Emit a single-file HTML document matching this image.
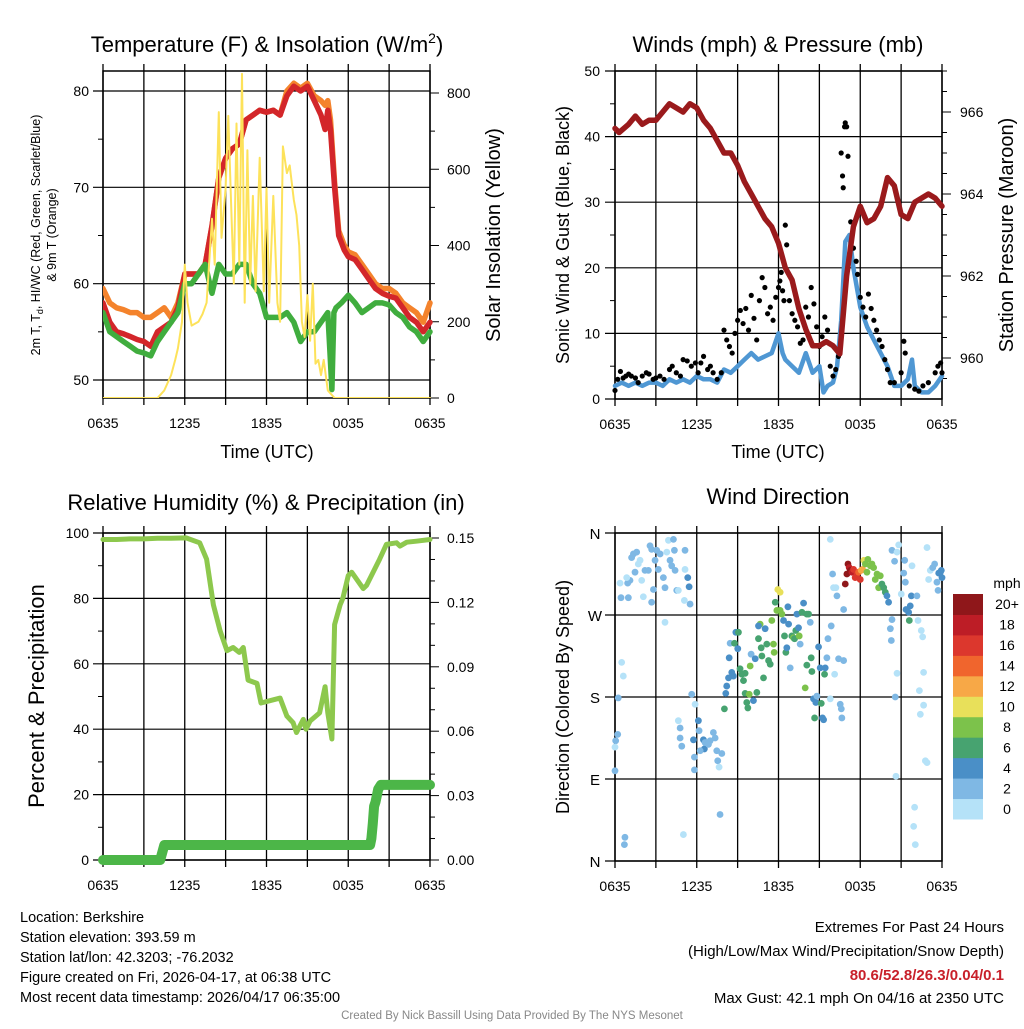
<!DOCTYPE html>
<html><head><meta charset="utf-8"><style>
body{margin:0;background:#fff;}
svg text{font-family:"Liberation Sans",sans-serif;}
</style></head><body>
<svg id="s" width="1024" height="1024" xmlns="http://www.w3.org/2000/svg"></svg>
<script>
// ---------- DATA ----------
const xTickLabels = ["0635","1235","1835","0035","0635"];
// Temperature panel (hours since 0635)
const tRedH  = [0,0.5,1,1.5,2,2.5,3,3.5,4,4.5,5,5.5,6,6.5,7,7.5,8,8.5,9,9.5,10,10.5,11,11.5,12,12.5,13,13.5,14,14.5,15,15.5,16,16.3,16.5,16.7,17,17.3,17.7,18,18.5,19,19.5,20,20.5,21,21.5,22,22.5,23,23.5,24];
const tRedV  = [58,56,55,54.8,54.5,54.2,54,53.5,55,55.5,56,57.5,61,61,61,62,66,71,73,74,74.5,77,77.5,78,77.8,78,77.5,79.5,80.5,80,80.5,79,77.5,76,78,76,70,65,63.5,62.8,62.5,61.5,60.5,59.5,59,58.7,58.5,57.5,56.5,56,55,56];
const tOrgV  = [59.5,58,57.5,57.3,57,57,56.5,56.5,57,57.5,56.5,58,61,61,61,62,66,71,73,74,74.5,77,77.5,78,77.8,78,77.5,80,80.8,80.3,80.8,79.5,79,78.5,79,77,70.5,65.5,64,63.3,63,62,61,60,59.5,59.5,59,58,57.5,57,56,58];
const tGrnH  = [0,0.5,1,1.5,2,2.5,3,3.5,4,4.5,5,5.5,6,6.5,7,7.5,8,8.5,9,9.5,10,10.5,11,11.5,12,12.5,13,13.5,14,14.5,15,15.5,16,16.5,16.65,16.8,16.95,17.1,17.5,18,18.5,19,19.5,20,20.5,21,21.5,22,22.5,23,23.5,24];
const tGrnV  = [57,55,54.5,54,53.5,53,52.8,52.5,54,55,56,57,60,60,61,62,59,62,61,61,62,62,60,59,56.5,56.5,56.5,57,56,54,55,55,56,57,53,49,57,57.5,58,58.8,58,57,57.5,58,58,57.8,57,56.5,55.5,55,54,55];
const solarH = [0,4,4.5,5,5.3,5.5,5.8,6,6.2,6.5,7,7.3,7.6,8,8.2,8.5,8.7,9,9.2,9.4,9.6,9.8,10,10.2,10.4,10.6,10.8,11,11.2,11.5,11.8,12,12.2,12.5,12.8,13,13.2,13.5,13.7,14,14.2,14.4,14.6,14.8,15,15.2,15.4,15.6,15.8,16,16.2,16.5,17,24];
const solarV = [0,0,20,60,100,130,200,350,250,190,200,220,250,470,350,750,420,550,740,510,300,720,350,850,250,650,300,530,280,630,280,550,250,530,250,200,660,590,610,520,480,400,200,160,270,150,300,90,100,60,100,20,0,0];
// Winds panel
const presH = [0,0.3,1,1.5,2,2.5,3,3.5,4,4.5,5,5.5,6,6.5,7,7.5,8,8.5,9,9.5,10,10.5,11,11.5,12,12.5,13,13.5,14,14.5,15,15.5,16,16.5,17,17.5,18,18.5,19,19.5,20,20.5,21,21.5,22,22.5,23,23.5,24];
const presV = [965.6,965.5,965.7,965.9,965.7,965.8,965.8,966.0,966.2,966.1,966.0,966.2,966.1,965.8,965.6,965.3,965.0,965.0,964.7,964.3,964.0,963.7,963.4,963.2,962.8,962.2,961.9,961.2,960.7,960.3,960.3,960.4,960.3,960.1,962.0,963.2,963.7,963.3,963.4,963.7,964.4,964.2,963.5,963.4,963.8,963.9,964.0,963.9,963.7];
const windH = [0,0.5,1,1.5,2,2.5,3,3.5,4,4.5,5,5.5,6,6.5,7,7.5,8,8.5,9,9.5,10,10.5,11,11.5,12,12.3,12.5,13,13.5,14,14.5,15,15.3,15.6,16,16.3,16.6,16.9,17.2,17.5,18,18.5,19,19.5,20,20.5,21,21.5,21.8,22,22.5,23,23.5,24];
const windV = [2,2.5,2,2.5,2,2.5,2.5,2,3,2.5,3,2.5,3.5,3,3,2.5,4.5,4,5,6,7,6,6.5,7,10,7,6,5,4,7,4,5,1,2,2.5,5,12,24,25,20,14,11,9,7,5,2,2,3,6,2,1,1,2,3.5];
const gustH = [0,0.2,0.4,0.6,0.8,1,1.2,1.5,1.7,2,2.3,2.5,2.8,3,3.3,3.6,4,4.2,4.5,4.8,5,5.3,5.6,5.9,6.1,6.3,6.5,6.8,7,7.2,7.5,7.8,8,8.2,8.4,8.6,8.8,9,9.2,9.4,9.6,9.8,10,10.2,10.4,10.6,10.8,11,11.2,11.4,11.6,11.8,12,12.1,12.2,12.3,12.4,12.5,12.6,12.8,13,13.2,13.4,13.6,13.8,14,14.2,14.4,14.6,14.8,15,15.2,15.4,15.6,15.8,16,16.2,16.4,16.6,16.7,16.75,16.85,16.9,17,17.1,17.3,17.5,17.7,17.8,18,18.2,18.4,18.6,18.8,19,19.2,19.4,19.6,19.8,20,20.2,20.5,21,21.2,21.3,21.6,22,22.3,22.6,23,23.5,23.7,23.9,24];
const gustV = [1.3,3,4.2,3.2,3.5,3.8,3.5,3.2,2.5,3.5,4,3.8,3,3.2,3.5,3,4.5,5,4,3.5,6,5.8,5,5.5,4,5.5,6.5,4.5,5,4,3,4,10.5,9,8,7,10,12,13.5,11.5,13.8,10.5,15.8,12.3,9,15,18.5,17,13,14,12,15.5,17,18,19.3,16.5,15,26.5,23.5,15,13,12,11,8.5,9,14,12.5,17,14.5,11,8,9.5,12.5,10.5,5,3.5,4.5,6.5,37.5,34,32.2,41.5,42.1,41.5,37,27,23,21,19,15.5,14,12.5,16,13.8,12,10.5,9,8,6,4.5,2.5,2.5,4,8.8,7,2,1.5,1.2,2,2.5,4,5,5.5,4];
// Humidity panel
const rhH = [0,1,2,3,4,5,6.1,7.1,7.6,8.1,8.6,9.1,9.55,10,10.3,10.65,11.3,11.6,12.5,13,13.5,13.95,14.2,14.7,14.9,15.2,15.9,16.3,16.5,16.8,17,17.4,17.6,18,18.25,19.1,19.35,20.3,20.8,21.55,21.8,22.3,23,24];
const rhV = [98,98,98.2,98.2,98.4,98.4,98.5,97,92,78,70,64,65,63.5,65,55,54,48,49,49.5,44,42,39,43,40,42.5,45,53,45,37,72,78,80,87,88,83,84,92,96.5,97,96,97.2,97.5,98];
const pcpH = [0,4.2,4.5,19.6,19.7,19.8,19.9,20.0,20.2,20.4,24];
const pcpV = [0,0,0.007,0.007,0.01,0.017,0.025,0.027,0.033,0.035,0.035];
// Wind direction panel
const dirH = [0.37,0.44,0.98,0.93,1.10,0.86,1.47,1.22,1.35,1.59,1.84,1.71,1.96,2.08,2.20,2.45,2.57,2.69,2.82,2.69,2.94,3.06,3.18,3.31,3.55,3.67,3.80,3.92,4.04,4.16,4.29,4.36,4.41,4.53,4.65,5.14,5.14,5.34,5.44,5.51,5.09,3.67,0.49,0.61,0.24,0.20,0.05,0,0,0.73,0.69,
5.63,5.88,6.12,6.17,5.76,5.83,5.83,6.49,6.56,6.61,6.98,7.22,7.35,7.47,7.54,7.64,7.84,4.65,4.78,4.90,4.78,5.02,7.71,6.25,6.86,
8.03,8.13,8.20,8.33,8.38,8.45,8.57,8.69,8.77,8.87,9.06,9.01,9.18,9.31,9.43,9.55,9.55,9.67,9.75,9.85,9.92,9.99,10.16,10.29,10.41,10.53,10.65,10.53,10.73,10.78,10.90,11.02,11.14,11.27,11.39,11.51,11.63,11.68,11.76,11.88,11.95,12.12,12.12,12.25,12.37,12.44,12.54,12.61,12.69,12.74,12.86,12.98,13.10,13.18,13.27,13.35,13.47,13.52,13.59,13.72,13.84,13.96,14.08,14.08,14.21,14.33,14.40,14.45,14.57,14.65,14.74,14.82,14.94,15.06,15.14,15.23,15.31,15.38,15.43,15.55,15.63,15.80,15.87,15.97,16.04,16.12,16.21,16.29,16.41,16.53,16.61,16.65,16.78,16.78,15.80,
16.90,17.02,17.10,17.19,17.27,17.39,17.51,17.63,17.76,17.88,18.00,18.07,18.17,18.27,18.37,18.49,18.56,18.74,18.86,18.98,19.10,19.23,19.35,19.47,19.59,19.72,19.84,19.96,20.08,20.33,20.21,20.28,
20.33,20.82,20.52,20.70,21.01,21.19,21.31,21.26,21.36,21.55,21.60,21.67,21.75,21.80,22.16,22.24,22.48,22.58,22.65,22.78,22.90,20.57,20.70,22.34,22.65,22.41,20.62,21.99,21.92,22.04,22.90,23.14,23.02,23.32,23.46,23.63,23.76,23.88,23.71,24.00,23.95];
const dirDeg = [305,289,289,305,308,311,317,333,337,339,330,326,308,290,319,319,346,342,298,284,330,341,320,337,311,300,339,352,330,324,353,341,319,297,297,341,320,311,301,282,286,262,218,203,179,139,132,125,99,26,18,
183,172,154,143,133,114,100,133,123,130,132,141,135,121,110,103,118,154,146,126,135,29,51,121,128,
167,184,192,201,223,239,207,203,239,251,251,233,211,205,198,206,184,174,168,183,214,227,176,222,185,244,260,258,234,225,201,255,238,220,216,264,238,229,284,275,298,295,275,271,264,247,229,234,279,260,212,247,245,244,253,271,256,247,238,273,283,190,271,215,271,262,223,208,178,157,174,181,235,212,173,157,155,205,212,223,244,178,258,315,300,205,300,291,222,172,167,157,220,276,353,
304,315,326,322,319,317,320,311,315,317,309,319,320,330,326,317,331,324,326,322,309,315,300,313,304,300,295,291,284,265,255,242,
341,347,329,339,293,316,306,330,276,273,264,280,291,324,291,264,253,246,207,110,108,180,206,187,171,161,93,59,38,18,344,319,309,322,326,306,316,317,297,311,319];
const dirSpd = [1,2,2,2,2,1,2,2,2,2,1,1,1,1,2,2,2,2,2,2,2,2,2,2,2,2,1,1,2,2,2,2,2,2,1,2,1,4,4,2,1,1,1,1,2,2,2,1,2,2,2,
2,1,4,2,4,2,2,4,4,2,2,2,2,2,2,1,2,1,2,2,2,1,2,2,2,
6,4,4,4,4,2,4,4,6,4,6,4,6,6,6,6,6,6,6,8,8,2,4,4,6,6,8,4,6,6,6,4,6,6,6,8,8,8,6,8,10,10,8,8,4,6,6,4,4,4,2,6,8,6,6,4,4,8,2,6,4,8,6,6,6,2,6,6,4,6,4,2,4,4,6,4,4,6,4,2,2,1,2,2,1,1,1,2,2,2,2,2,2,2,1,
20,20,20,18,20,18,16,16,16,14,16,12,12,10,8,8,8,8,8,8,8,8,8,8,6,6,6,4,4,2,2,2,
2,1,2,1,1,2,2,2,4,4,6,4,4,1,2,1,1,1,1,1,1,2,1,1,1,1,1,1,1,1,1,1,1,2,2,2,4,4,2,4,4];
const cbLabels = ["0","2","4","6","8","10","12","14","16","18","20+"];
const cbColors = ["#b5e2f8","#7fb8e4","#4a8fc7","#47a370","#7cc24b","#e8e05a","#f7a847","#f0652d","#dc372d","#bd1d26","#8f171a"];

// ---------- HELPERS ----------
const NS="http://www.w3.org/2000/svg", S=document.getElementById('s');
function mk(tag, at, parent){const e=document.createElementNS(NS,tag);for(const k in at)e.setAttribute(k,at[k]);(parent||S).appendChild(e);return e;}
function txt(x,y,str,size,anchor,parent,extra){const t=mk('text',Object.assign({x:x,y:y,'font-size':size,'text-anchor':anchor||'middle',fill:'#000'},extra||{}),parent);t.textContent=str;return t;}
function lin(d0,d1,r0,r1){return v=>r0+(v-d0)*(r1-r0)/(d1-d0);}
function grp(name){const g=mk('g',{});return g;}

function frame(g,L,R,T,B,xs){
  for(let h=0;h<=24;h+=3){const x=xs(h);mk('line',{x1:x,y1:T-7,x2:x,y2:B+7,stroke:'#000','stroke-width':1.3},g);}
  mk('rect',{x:L,y:T,width:R-L,height:B-T,fill:'none',stroke:'#000','stroke-width':1.5},g);
  xTickLabels.forEach((s,i)=>{const t=txt(xs(i*6),B+30,s,14,'middle',g);});
}
function hgrid(g,L,R,y,ext){mk('line',{x1:L-(ext||10),y1:y,x2:R,y2:y,stroke:'#000','stroke-width':1.2},g);}
function rtick(g,R,y,len){mk('line',{x1:R,y1:y,x2:R+len,y2:y,stroke:'#000','stroke-width':1},g);}
function path(g,H,V,xs,ys,color,w,name){let d='';H.forEach((h,i)=>{d+=(i?'L':'M')+xs(h).toFixed(1)+','+ys(V[i]).toFixed(1);});const p=mk('path',{d:d,fill:'none',stroke:color,'stroke-width':w,'stroke-linejoin':'round','stroke-linecap':'round'},g);return p;}

// ---------- PANEL 1: Temperature ----------
(function(){
  const L=103,R=430,T=71,B=398,g=grp('temperature-panel');
  const xs=lin(0,24,L,R), ys=lin(50,80,380,91), yr=lin(0,800,398,93);
  frame(g,L,R,T,B,xs);
  [50,60,70,80].forEach(v=>{hgrid(g,L,R,ys(v));const t=txt(L-14,ys(v)+5,String(v),14,'end',g);});
  [55,65,75].forEach(v=>mk('line',{x1:L-5,y1:ys(v),x2:L,y2:ys(v),stroke:'#000'},g));
  for(let v=0;v<=850;v+=100){rtick(g,R,yr(v),v%200===0?9:5);}
  [0,200,400,600,800].forEach(v=>{const t=txt(R+17,yr(v)+5,String(v),14,'start',g);});
  const cp=mk('clipPath',{id:'c1'},g);mk('rect',{x:L,y:T-10,width:R-L+4,height:B-T+10},cp);
  const pg=mk('g',{'clip-path':'url(#c1)'},g);
  path(pg,tRedH,tOrgV,xs,ys,'#f4832c',5.5,'temp-9m-line');
  path(pg,tRedH,tRedV,xs,ys,'#d3262a',5.5,'temp-2m-line');
  path(pg,tGrnH,tGrnV,xs,ys,'#40ad3e',5.5,'dewpoint-line');
  path(pg,solarH,solarV,xs,yr,'#fde25a',2,'solar-line');
  const t1=txt(267,52,'Temperature (F) & Insolation (W/m',22,'middle',g);const sup=mk('tspan',{dy:-9,'font-size':14},t1);sup.textContent='2';const cl=mk('tspan',{dy:9},t1);cl.textContent=')';
  
  const xl=txt(267,458,'Time (UTC)',18,'middle',g);
  const yl=mk('text',{transform:'translate(40,235) rotate(-90)','font-size':12.5,'text-anchor':'middle'},g);
  yl.innerHTML='2m T, T<tspan font-size="9" dy="3">d</tspan><tspan dy="-3">, HI/WC (Red, Green, Scarlet/Blue)</tspan>';
  
  const yl2=txt(0,0,'& 9m T (Orange)',12.5,'middle',g,{transform:'translate(56,235) rotate(-90)'});
  const yr2=txt(0,0,'Solar Insolation (Yellow)',20,'middle',g,{transform:'translate(500,235) rotate(-90)'});
})();

// ---------- PANEL 2: Winds ----------
(function(){
  const L=615,R=942,T=71,B=399,g=grp('winds-panel');
  const xs=lin(0,24,L,R), ys=lin(0,50,399,71), yp=lin(960,966,358,112);
  frame(g,L,R,T,B,xs);
  [0,10,20,30,40,50].forEach(v=>{hgrid(g,L,R,ys(v));const t=txt(L-15,ys(v)+5,String(v),14,'end',g);});
  [5,15,25,35,45].forEach(v=>mk('line',{x1:L-5,y1:ys(v),x2:L,y2:ys(v),stroke:'#000'},g));
  for(let v=959.5;v<=967;v+=0.5){rtick(g,R,yp(v),Math.abs(v%2)<0.01?9:5);}
  [960,962,964,966].forEach(v=>{const t=txt(R+18,yp(v)+5,String(v),14,'start',g);});
  const cp=mk('clipPath',{id:'c2'},g);mk('rect',{x:L-3,y:T,width:R-L+6,height:B-T+3},cp);
  const pg=mk('g',{'clip-path':'url(#c2)'},g);
  path(pg,windH,windV,xs,ys,'#4f97d3',4.5,'wind-speed-line');
  gustH.forEach((h,i)=>{const c=mk('circle',{cx:xs(h),cy:ys(gustV[i]),r:2.6,fill:'#000'},pg);});
  path(pg,presH,presV,xs,yp,'#9a1a1c',5.5,'pressure-line');
  const t=txt(778,52,'Winds (mph) & Pressure (mb)',22,'middle',g);
  const xl=txt(778,458,'Time (UTC)',18,'middle',g);
  const yl=txt(0,0,'Sonic Wind & Gust (Blue, Black)',18,'middle',g,{transform:'translate(569,235) rotate(-90)'});
  const yr=txt(0,0,'Station Pressure (Maroon)',20,'middle',g,{transform:'translate(1013,235) rotate(-90)'});
})();

// ---------- PANEL 3: Humidity ----------
(function(){
  const L=103,R=430,T=533,B=860,g=grp('humidity-panel');
  const xs=lin(0,24,L,R), ys=lin(0,100,860,533), yr=lin(0,0.15,860,538);
  frame(g,L,R,T,B,xs);
  [0,20,40,60,80,100].forEach(v=>{hgrid(g,L,R,ys(v));const t=txt(L-14,ys(v)+5,String(v),14,'end',g);});
  [10,30,50,70,90].forEach(v=>mk('line',{x1:L-5,y1:ys(v),x2:L,y2:ys(v),stroke:'#000'},g));
  for(let i=0;i<=15;i++){const v=i*0.01;rtick(g,R,yr(v),i%3===0?9:5);}
  ['0.00','0.03','0.06','0.09','0.12','0.15'].forEach((s,i)=>{const t=txt(R+17,yr(i*0.03)+5,s,14,'start',g);});
  path(g,rhH,rhV,xs,ys,'#8dc84d',5,'rh-line');
  path(g,pcpH,pcpV,xs,yr,'#4cb648',10,'precip-line');
  const t=txt(266,510,'Relative Humidity (%) & Precipitation (in)',22,'middle',g);
  const yl=txt(0,0,'Percent & Precipitation',22,'middle',g,{transform:'translate(44,696) rotate(-90)'});
})();

// ---------- PANEL 4: Wind direction ----------
(function(){
  const L=615,R=942,T=533,B=861,g=grp('wind-direction-panel');
  const xs=lin(0,24,L,R), ys=lin(0,360,861,533);
  frame(g,L,R,T,B,xs);
  ['N','E','S','W','N'].forEach((s,i)=>{hgrid(g,L,R,ys(i*90));const t=txt(L-20,ys(i*90)+6,s,15,'middle',g);});
  dirH.forEach((h,i)=>{const idx=Math.min(10,Math.floor(dirSpd[i]/2));const c=mk('circle',{cx:xs(h),cy:ys(dirDeg[i]),r:3.4,fill:cbColors[idx]},g);
    
    });
  const t=txt(778,504,'Wind Direction',22,'middle',g);
  const yl=txt(0,0,'Direction (Colored By Speed)',18,'middle',g,{transform:'translate(569,697) rotate(-90)'});
  const cb=grp('speed-colorbar');
  const bh=225/11;
  cbColors.forEach((c,i)=>{const r=mk('rect',{x:953,y:819-(i+1)*bh,width:30,height:bh+0.5,fill:c},cb);
    const l=txt(1007,819-i*bh-bh/2+5,cbLabels[i],14,'middle',cb);});
  const u=txt(1007,588,'mph',14,'middle',cb);
})();

// ---------- FOOTER ----------
(function(){
  const g=grp('footer-info');
  ['Location: Berkshire','Station elevation: 393.59 m','Station lat/lon: 42.3203; -76.2032','Figure created on Fri, 2026-04-17, at 06:38 UTC','Most recent data timestamp: 2026/04/17 06:35:00'].forEach((s,i)=>{
    const t=txt(20,922+i*20,s,14.5,'start',g);});
  const a=txt(1004,932,'Extremes For Past 24 Hours',15,'end',g);
  const b=txt(1004,956,'(High/Low/Max Wind/Precipitation/Snow Depth)',15,'end',g);
  const c=txt(1004,980,'80.6/52.8/26.3/0.04/0.1',15,'end',g,{fill:'#c8202a','font-weight':'bold'});
  const d=txt(1004,1003,'Max Gust: 42.1 mph On 04/16 at 2350 UTC',15,'end',g);
  const e=txt(512,1019,'Created By Nick Bassill Using Data Provided By The NYS Mesonet',11.5,'middle',g,{fill:'#888'});
})();
</script>
</body></html>
